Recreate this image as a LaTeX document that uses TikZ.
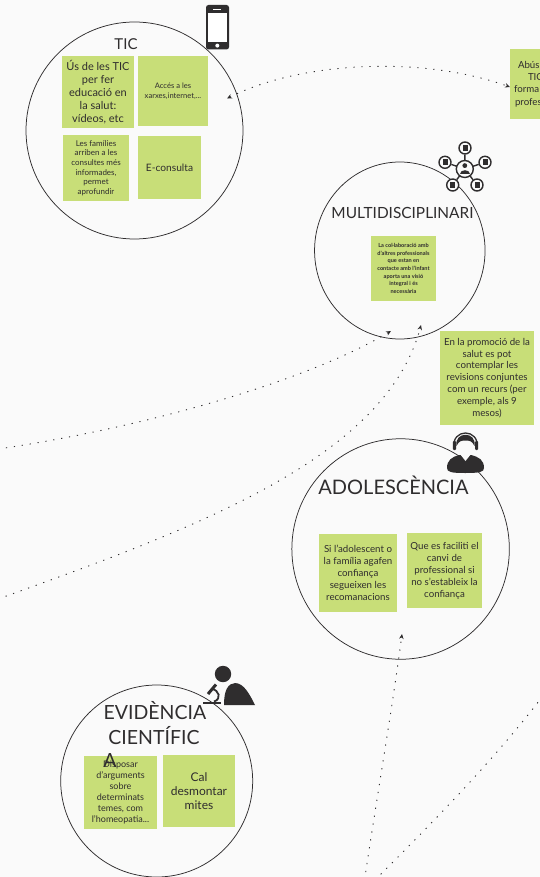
\documentclass[tikz,border=0pt]{standalone}
\usepackage{fontspec}
\setmainfont{Lato}
\usetikzlibrary{shapes.geometric,arrows.meta,calc}
\definecolor{bgc}{HTML}{FAFAFA}
\definecolor{notec}{HTML}{C8DE78}
\definecolor{inkc}{HTML}{2F2D2E}
\newcommand{\fsz}[2]{\fontsize{#1pt}{#2pt}\selectfont}
\tikzset{
  ring/.style={draw=inkc,line width=0.75pt,ellipse,inner sep=0pt},
  note/.style={fill=notec,text=inkc,align=center,inner sep=0pt},
  title/.style={text=inkc,inner sep=0pt},
  link/.style={draw=inkc,line width=0.9pt,dash pattern=on 1.2pt off 6.8pt},
  tip/.style={-{Stealth[length=5pt,width=4.5pt]}},
  tips/.style={{Stealth[length=5pt,width=4.5pt]}-{Stealth[length=5pt,width=4.5pt]}},
  ico/.style={fill=inkc,draw=none},
  icoline/.style={draw=inkc,line width=1.4pt},
  sat/.style={circle,draw=inkc,line width=1.4pt,fill=bgc,minimum size=12pt,inner sep=0pt},
}
\begin{document}
\begin{tikzpicture}[x=1pt,y=-1pt]
\useasboundingbox (0,0) rectangle (540,877);
\clip (0,0) rectangle (540,877);
\fill[bgc] (0,0) rectangle (540,877);

% rings
\node[ring,minimum width=217pt,minimum height=217pt] (ctic) at (134.5,130.5) {};
\node[ring,minimum width=170.5pt,minimum height=177pt] (cmul) at (399.8,250.5) {};
\node[ring,minimum width=217.5pt,minimum height=220.5pt] (cado) at (400.6,549) {};
\node[ring,minimum width=192pt,minimum height=192pt] (cevi) at (156.7,781) {};

% connector ends
\coordinate (a1) at (227,98.5);
\coordinate (a2) at (510,87);
\coordinate (b1) at (-2,449);
\coordinate (b2) at (391,331);
\coordinate (c1) at (-2,599);
\coordinate (c2) at (421,325);
\coordinate (d1) at (364.5,880);
\coordinate (d2) at (402,634);
\coordinate (e1) at (375,880);
\coordinate (e2) at (542,697);

\draw[link,tips] (a1) .. controls (300,62) and (420,55) .. (a2);
\draw[link,tip] (b1) .. controls (130,430) and (300,385) .. (b2);
\draw[link,tip] (c1) .. controls (190,530) and (385,460) .. (c2);
\draw[link,tip] (d1) .. controls (378,790) and (392,710) .. (d2);
\draw[link] (e1) .. controls (425,830) and (490,765) .. (e2);

% notes
\node[note,minimum width=72pt,minimum height=72pt,font=\fsz{11}{13}] (n1) at (98,92) {Ús de les TIC\\per fer\\educació en\\la salut:\\vídeos, etc};
\node[note,minimum width=70pt,minimum height=70pt,font=\fsz{7.6}{10}] (n2) at (173,91) {Accés a les\\xarxes,internet,...};
\node[note,minimum width=66pt,minimum height=66pt,font=\fsz{8}{9.7}] (n3) at (96,168) {Les famílies\\arriben a les\\consultes més\\informades,\\permet\\aprofundir};
\node[note,minimum width=63pt,minimum height=63pt,font=\fsz{10.2}{12}] (n4) at (169.5,167.5) {E-consulta};
\node[note,minimum width=65pt,minimum height=65pt,font=\fsz{5.6}{7.7}\bfseries] (n5) at (403.5,268.5) {La col·laboració amb\\d'altres professionals\\que estan en\\contacte amb l'infant\\aporta una visió\\integral i és\\necessària};
\node[note,minimum width=94pt,minimum height=94pt,font=\fsz{9.7}{11.9}] (n6) at (487,378) {En la promoció de la\\salut es pot\\contemplar les\\revisions conjuntes\\com un recurs (per\\exemple, als 9\\mesos)};
\node[note,minimum width=78pt,minimum height=78pt,font=\fsz{9.7}{12}] (n7) at (358,573) {Si l'adolescent o\\la família agafen\\confiança\\segueixen les\\recomanacions};
\node[note,minimum width=75pt,minimum height=75pt,font=\fsz{9.7}{12}] (n8) at (444.5,570.5) {Que es faciliti el\\canvi de\\professional si\\no s'estableix la\\confiança};
\node[note,minimum width=73pt,minimum height=73pt,font=\fsz{9}{11}] (n9) at (120.5,792.5) {Disposar\\d'arguments\\sobre\\determinats\\temes, com\\l'homeopatia...};
\node[note,minimum width=72pt,minimum height=72pt,font=\fsz{12}{14}] (n10) at (199,791) {Cal\\desmontar\\mites};
\node[note,minimum width=70pt,minimum height=70pt,font=\fsz{9.7}{12.4},align=left,text width=70pt] (n11) at (545,84) {\hspace*{8pt}Abús\\\hspace*{18pt}TIC\\\hspace*{4pt}forma\\\hspace*{5pt}profes};

% titles
\node[title,font=\fsz{15}{18}] (t1) at (126,44.5) {TIC};
\node[title,font=\fsz{15.4}{18}] (t2) at (402.5,212.5) {MULTIDISCIPLINARI};
\node[title,font=\fsz{20}{24}] (t3) at (393.5,485) {ADOLESCÈNCIA};
\node[title,font=\fsz{19.5}{24}] (t4) at (155,711) {EVIDÈNCIA};
\node[title,font=\fsz{19.5}{24}] (t5) at (154,736) {CIENTÍFIC};
\node[title,font=\fsz{19.5}{24}] (t6) at (110,761) {A};

% phone
\fill[ico,rounded corners=2.5pt] (206,5) rectangle (229,49.5);
\fill[white] (207.8,12.8) rectangle (227.2,42);
\fill[white] (212.5,8.8) rectangle (221,9.8);
\fill[white] (217.3,45.6) circle (2pt);

% network icon
\coordinate (hub) at (464.8,169);
\node[sat] (s1) at (465,148) {};
\node[sat] (s2) at (445,162.3) {};
\node[sat] (s3) at (485,162.3) {};
\node[sat] (s4) at (452.7,185) {};
\node[sat] (s5) at (477,185) {};
\foreach \s in {s1,s2,s3,s4,s5} {
  \draw[icoline] (hub) -- (\s);
  \fill[ico] ($(\s)+(-2.5,-3.2)$) rectangle ($(\s)+(2.5,3.2)$);
}
\node[sat,minimum size=17pt] (s0) at (hub) {};
\fill[ico] (464.8,165.6) circle (2.4pt);
\fill[ico] (459.5,174.5) .. controls (459.5,169.5) and (470,169.5) .. (470,174.5) -- cycle;

% headset person
\fill[ico] (447,468) .. controls (447,460) and (452,457) .. (459,455) -- (471,455) .. controls (479,457) and (484,460) .. (484,468) .. controls (484,472) and (480,473) .. (465,473) .. controls (451,473) and (447,472) .. (447,468) -- cycle;
\draw[draw=inkc,line width=1.3pt] (454,448) .. controls (451,428) and (480,428) .. (477,448);
\fill[ico,rounded corners=1pt] (452.8,441) rectangle (456,450);
\fill[ico,rounded corners=1pt] (475,441) rectangle (478.2,450);
\fill[bgc] (457,440) -- (474,440) -- (474,449) .. controls (472,459) and (459,459) .. (457,449) -- cycle;
\fill[bgc] (460,454) -- (465.5,461) -- (471,454) -- cycle;
\fill[ico] (456.5,446) .. controls (454,431) and (477,431) .. (474.5,446) .. controls (472,441) and (470,440.5) .. (465.5,440.5) .. controls (461,440.5) and (459,441) .. (456.5,446) -- cycle;

% scientist
\fill[ico] (223,674) circle (8.2pt);
\fill[ico] (224,705) .. controls (224,690) and (228,683.5) .. (235,683) .. controls (244,683) and (250,695) .. (255,705) -- cycle;
\draw[draw=inkc,line width=2.4pt] (203,703) -- (221,703);
\draw[draw=inkc,line width=3pt] (216,684.5) -- (208,694);
\draw[draw=inkc,line width=1.8pt] (212,689) .. controls (219,690) and (222,699) .. (214,701.5);
\end{tikzpicture}
\end{document}
